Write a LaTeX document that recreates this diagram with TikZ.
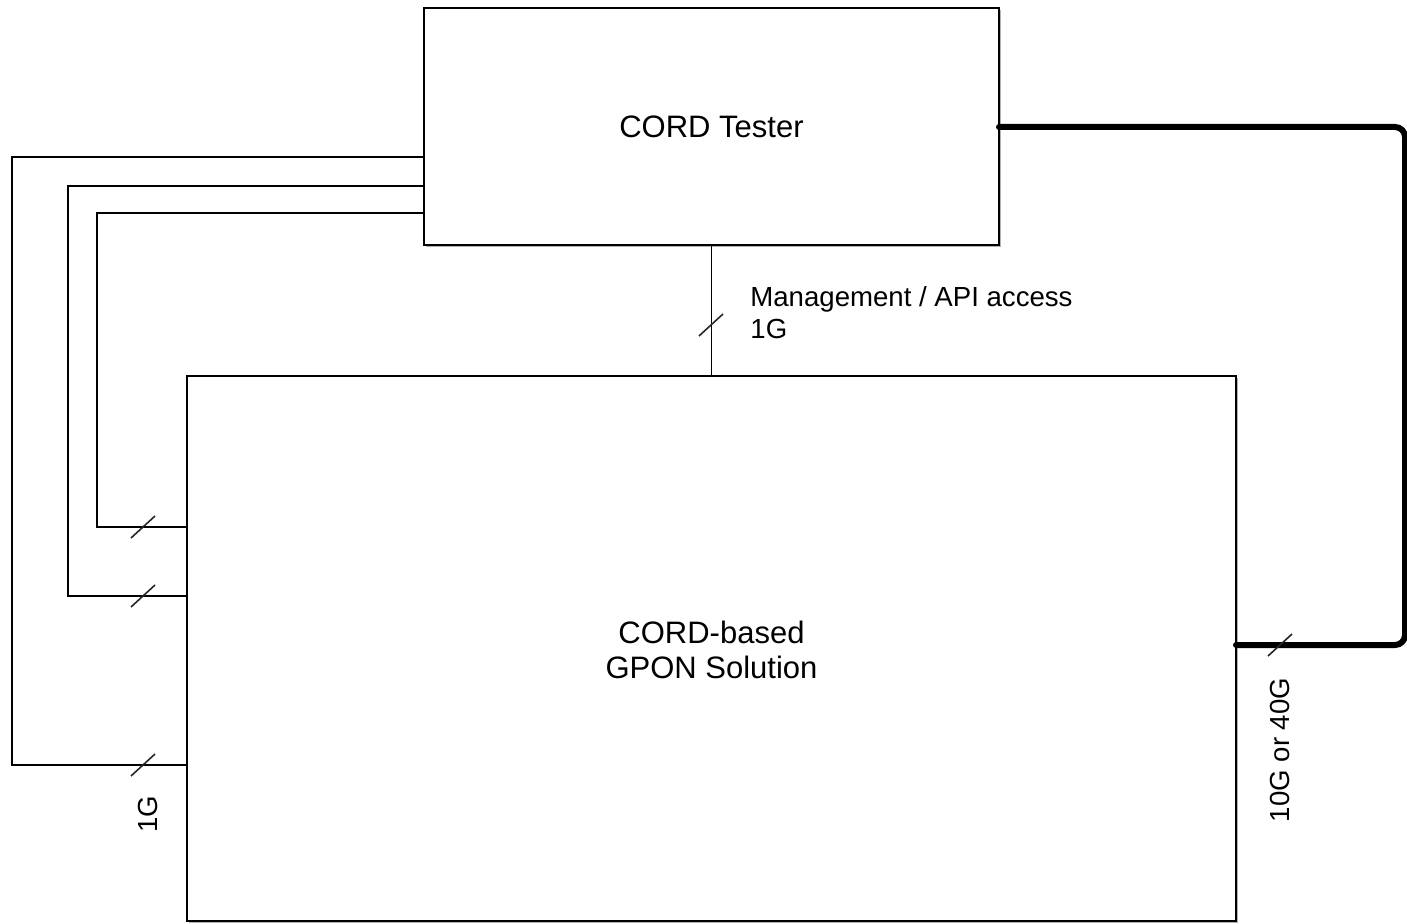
\documentclass[tikz,border=0pt]{standalone}
\usepackage{fontspec}
\setmainfont{Liberation Sans}
\usetikzlibrary{shadows}
\begin{document}
\begin{tikzpicture}[x=0.5pt,y=-0.5pt,
  box/.style={draw, line width=0.8pt, rectangle, inner sep=0pt, outer sep=0pt, fill=white,
    drop shadow={shadow xshift=0.8pt, shadow yshift=-0.8pt, opacity=0.6, fill=gray}},
  bigtext/.style={font=\fontsize{15.5}{17.5}\selectfont, align=center},
  lbl/.style={font=\fontsize{13.8}{16}\selectfont, inner sep=0pt},
  slash/.pic={\draw[line width=0.8pt, black!85] (-12,11) -- (12,-11);}]
\useasboundingbox (0,0) rectangle (1407,924);
\node[box, minimum width=287.5pt, minimum height=118.5pt] (tester) at (711.5,126.5) {};
\node[bigtext] (testerlbl) at (711.5,127) {CORD Tester};
\node[box, minimum width=524.5pt, minimum height=272.5pt] (gpon) at (711.5,648.5) {};
\node[bigtext] (gponlbl) at (711.5,650) {CORD-based\\GPON Solution};
% management link
\draw[line width=0.6pt] (tester.south) -- (gpon.north);
\pic at (711,325) {slash};
\node[lbl, anchor=west, align=left] (mgmt) at (750,313) {Management / API access\\1G};
% left links
\draw[line width=0.7pt] (tester.west |- 0,157) -| (12,765) -- (gpon.west |- 0,765);
\draw[line width=1.2pt] (tester.west |- 0,186) -| (68,596) -- (gpon.west |- 0,596);
\draw[line width=1.0pt] (tester.west |- 0,213) -| (97,527) -- (gpon.west |- 0,527);
\pic at (143,527) {slash};
\pic at (143,596) {slash};
\pic at (143,765) {slash};
\node[lbl, rotate=90] (onegl) at (148,814) {1G};
% right thick link
\draw[line width=3pt, line cap=round, rounded corners=5pt] (tester.east |- 0,127) -- (1405,127) -- (1405,645) -- (gpon.east |- 0,645);
\pic at (1280,645) {slash};
\node[lbl, rotate=90] (tenl) at (1280,750) {10G or 40G};
\end{tikzpicture}
\end{document}
